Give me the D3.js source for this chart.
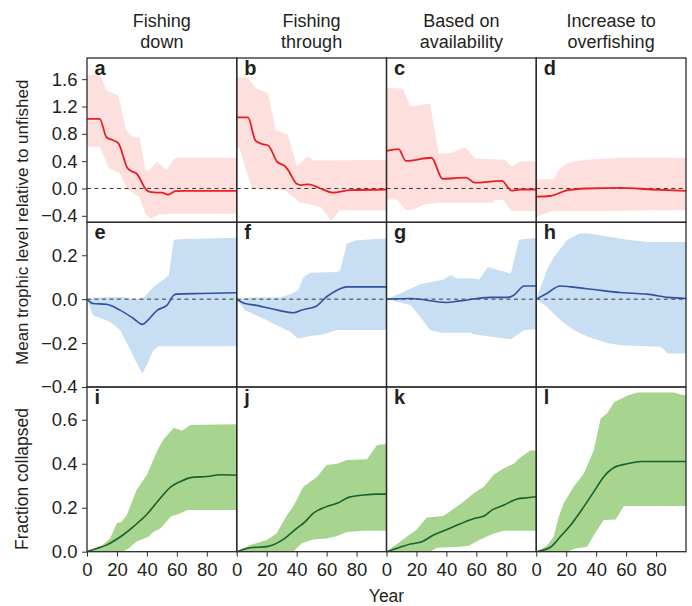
<!DOCTYPE html>
<html>
<head>
<meta charset="utf-8">
<script src="https://cdn.jsdelivr.net/npm/d3@7"></script>
<style>
  body { margin: 0; background: #fff; }
  svg text { font-family: "Liberation Sans", Arial, sans-serif; fill: #231f20; }
</style>
</head>
<body>
<div id="chart"></div>
<script>
// column headings and panel letters
const strategies = [["Fishing", "down"], ["Fishing", "through"], ["Based on", "availability"], ["Increase to", "overfishing"]];
const letters = ["a","b","c","d","e","f","g","h","i","j","k","l"];
const rowTicks = [[-0.4, 0, 0.4, 0.8, 1.2, 1.6], [-0.4, -0.2, 0, 0.2], [0, 0.2, 0.4, 0.6]];
const yearTicks = [0, 20, 40, 60, 80];

// row 1: trophic level, mean and spread  [year, value]
const meanA = [[0,1.02],[8.5,1.02],[13,0.75],[17,0.71],[21,0.66],[27,0.3],[30,0.25],[33,0.22],[40,-0.03],[42,-0.05],[47,-0.06],[50,-0.06],[54,-0.09],[59,-0.04],[65,-0.035],[100,-0.035]];
const hiA = [[0,1.66],[9,1.66],[13,1.43],[21,1.36],[26,0.86],[29,0.78],[33,0.75],[35,0.76],[39,0.27],[41,0.26],[47,0.39],[53,0.27],[58.5,0.44],[62,0.45],[100,0.45]];
const loA = [[0,0.61],[8.5,0.61],[14.5,0.3],[22,0.22],[27,-0.02],[35,-0.12],[39,-0.37],[42.5,-0.44],[48,-0.38],[58,-0.37],[100,-0.37]];

const meanB = [[0,1.04],[7.5,1.04],[12.5,0.7],[17,0.65],[21,0.63],[27,0.39],[32,0.33],[34,0.28],[40,0.07],[43,0.05],[48,0.06],[56,0.0],[64,-0.06],[76,-0.025],[100,-0.015]];
const hiB = [[0,1.63],[7,1.63],[13,1.46],[21,1.39],[26,0.86],[34,0.79],[35,0.72],[40,0.33],[44,0.4],[47,0.47],[52,0.41],[60,0.41],[100,0.42]];
const loB = [[0,0.6],[2,0.58],[10,0.0],[12,-0.01],[30,-0.02],[33,-0.04],[42,-0.2],[56,-0.27],[63,-0.47],[69,-0.32],[100,-0.32]];

const meanC = [[0,0.55],[8,0.575],[13,0.405],[30,0.45],[37.5,0.14],[45,0.15],[53,0.16],[59,0.085],[77,0.11],[83.5,-0.03],[89,-0.015],[100,-0.015]];
const hiC = [[0,1.48],[11,1.46],[16,1.2],[29,1.24],[35,0.51],[43,0.52],[50,0.58],[53,0.6],[59,0.44],[79,0.42],[83.5,0.32],[90,0.4],[100,0.4]];
const loC = [[0,-0.16],[7,-0.16],[13,-0.32],[17,-0.31],[26,-0.23],[35,-0.21],[71,-0.21],[72,-0.17],[78,-0.17],[83.5,-0.33],[100,-0.33]];

const meanD = [[0,-0.12],[9,-0.11],[21,-0.025],[33.5,0.0],[56,0.01],[78,-0.015],[100,-0.035]];
const hiD = [[0,0.13],[12,0.14],[15.6,0.29],[21,0.375],[33.5,0.42],[56,0.45],[100,0.45]];
const loD = [[0,-0.42],[4.5,-0.375],[11,-0.33],[56,-0.33],[78,-0.32],[100,-0.32]];

// row 2: trophic level, second measure
const meanE = [[0,0],[4,-0.02],[13,-0.023],[22,-0.05],[31,-0.088],[37,-0.115],[40,-0.1],[47,-0.05],[53.5,-0.027],[58,0.018],[60,0.023],[76,0.026],[100,0.029]];
const hiE = [[0,0],[6,0.008],[24,0.01],[31,0],[38,0.008],[44.5,0.056],[52,0.094],[54.6,0.11],[58,0.27],[62,0.273],[100,0.28]];
const loE = [[0,0],[4,-0.073],[15.4,-0.103],[22,-0.14],[29,-0.23],[33,-0.29],[37,-0.338],[40,-0.3],[44.5,-0.23],[48,-0.214],[100,-0.214]];

const meanF = [[0,0],[5.4,-0.02],[12,-0.027],[24,-0.045],[38,-0.062],[43,-0.05],[53,-0.032],[60,0.011],[67,0.041],[73.6,0.056],[100,0.056]];
const hiF = [[0,0],[9,0.008],[29,0.008],[37,0.026],[41,0.041],[44.5,0.1],[49,0.12],[67,0.124],[69,0.13],[73.6,0.253],[80,0.268],[100,0.276]];
const loF = [[0,0],[5.4,-0.05],[17.7,-0.088],[24,-0.11],[35.6,-0.148],[41,-0.18],[47,-0.17],[58,-0.16],[67,-0.14],[100,-0.14]];

const meanG = [[0,0],[16,0.003],[40,-0.015],[49,-0.008],[69.5,0.008],[81,0.008],[85,0.018],[92,0.06],[100,0.06]];
const hiG = [[0,0],[11,0.033],[22.5,0.068],[38,0.09],[43,0.11],[47,0.094],[56,0.095],[62,0.089],[67.6,0.147],[83,0.117],[88.5,0.27],[100,0.28]];
const loG = [[0,0],[16,-0.027],[22.5,-0.08],[29,-0.14],[36,-0.153],[56,-0.153],[58,-0.16],[83,-0.183],[92,-0.14],[100,-0.138]];

const meanH = [[0,0],[7,0.026],[16,0.06],[23,0.056],[38.5,0.044],[56,0.03],[74,0.023],[88,0.008],[100,0.003]];
const hiH = [[0,0],[7,0.13],[11.6,0.19],[20.6,0.27],[29.5,0.3],[34,0.3],[61,0.27],[74,0.26],[100,0.26]];
const loH = [[0,0],[7,-0.035],[16,-0.095],[25,-0.14],[34,-0.17],[47.4,-0.2],[56,-0.21],[83,-0.217],[88,-0.247],[100,-0.247]];

// row 3: fraction collapsed
const meanI = [[0,0],[6.5,0.015],[13,0.03],[19,0.053],[24,0.076],[31,0.114],[40,0.17],[47,0.227],[56,0.295],[62,0.318],[70,0.338],[80,0.342],[89,0.35],[100,0.348]];
const hiI = [[0,0],[9,0.023],[15.4,0.06],[20,0.13],[23,0.135],[26.6,0.167],[33,0.28],[40,0.35],[47,0.46],[51,0.51],[58,0.564],[63.5,0.55],[69,0.576],[100,0.58]];
const loI = [[0,0],[24,0],[27.7,0.015],[33,0.045],[41,0.068],[44.5,0.091],[49,0.106],[56,0.16],[62,0.174],[67,0.19],[100,0.19]];

const meanJ = [[0,0],[9,0.018],[20,0.023],[24,0.03],[31,0.056],[40,0.106],[45.6,0.136],[51,0.174],[60,0.205],[67,0.22],[74.7,0.247],[85,0.258],[93.7,0.262],[100,0.262]];
const hiJ = [[0,0],[9,0.03],[20,0.053],[26.6,0.083],[33,0.16],[38,0.21],[44.5,0.295],[53.5,0.34],[60,0.394],[67,0.4],[73.6,0.417],[87,0.42],[93.7,0.485],[100,0.49]];
const loJ = [[0,0],[37.8,0],[43.4,0.038],[51,0.056],[60,0.06],[67,0.071],[73.6,0.09],[85,0.095],[100,0.095]];

const meanK = [[0,0],[9,0.02],[16,0.035],[23.6,0.045],[31.4,0.076],[40,0.1],[49,0.126],[58,0.15],[65,0.162],[70.6,0.19],[78.4,0.212],[87.4,0.24],[94,0.245],[100,0.25]];
const hiK = [[0,0],[13.5,0.068],[20,0.1],[27,0.156],[38,0.162],[47,0.205],[51,0.225],[58,0.265],[65,0.295],[71.6,0.35],[78.4,0.38],[85,0.40],[88.5,0.424],[96,0.46],[100,0.46]];
const loK = [[0,0],[29,0],[33.7,0.018],[49.3,0.023],[55,0.027],[62.7,0.056],[71.6,0.083],[78.4,0.095],[100,0.095]];

const meanL = [[0,0],[9.4,0.02],[16,0.068],[23,0.121],[29.5,0.182],[38.5,0.273],[45,0.34],[52,0.383],[61,0.4],[70,0.41],[83,0.41],[100,0.41]];
const hiL = [[0,0],[7,0.027],[11.6,0.068],[15,0.159],[18.3,0.22],[25,0.295],[31.8,0.356],[38.5,0.462],[43,0.606],[47.4,0.63],[52,0.68],[61,0.71],[67.6,0.724],[92,0.724],[96.6,0.715],[100,0.71]];
const loL = [[0,0],[20.6,0],[26,0.015],[34,0.023],[38.5,0.076],[45,0.144],[53,0.147],[58.6,0.208],[100,0.208]];

const means = [meanA, meanB, meanC, meanD, meanE, meanF, meanG, meanH, meanI, meanJ, meanK, meanL];
const highs = [hiA, hiB, hiC, hiD, hiE, hiF, hiG, hiH, hiI, hiJ, hiK, hiL];
const lows  = [loA, loB, loC, loD, loE, loF, loG, loH, loI, loJ, loK, loL];

// layout
const width = 692, height = 606;
const left = 87, right = 686;
const rowEdges = [58, 222.3, 387, 551.7];
const rowDomains = [[-0.495, 1.91], [-0.4, 0.35], [0, 0.749]];
const rowColors = [
  {line: "#ec1c24", band: "#fde0dd"},
  {line: "#3150a0", band: "#c8def3"},
  {line: "#17602e", band: "#a7d48f"}
];
const pw = (right - left) / 4;
const tickFont = 18.5;

const svg = d3.select("#chart").append("svg")
  .attr("width", width)
  .attr("height", height);

const fmt = d3.format(".1f");
const line = d3.line().curve(d3.curveMonotoneX);

for (let r = 0; r < 3; r++){
  const y = d3.scaleLinear().domain(rowDomains[r]).range([rowEdges[r+1], rowEdges[r]]);
  for (let c = 0; c < 4; c++){
    const i = r * 4 + c;
    const x = d3.scaleLinear().domain([0, 100]).range([left + c * pw, left + (c + 1) * pw]);
    const clipId = "clip" + i;
    svg.append("clipPath").attr("id", clipId)
      .append("rect")
      .attr("x", x(0)).attr("y", rowEdges[r])
      .attr("width", pw).attr("height", rowEdges[r+1] - rowEdges[r]);
    const g = svg.append("g").attr("clip-path", `url(#${clipId})`);

    line.x(d => x(d[0])).y(d => y(d[1]));
    // band: upper edge forward, lower edge back
    const poly = highs[i].concat(lows[i].slice().reverse());
    g.append("path")
      .attr("d", d3.line().x(d => x(d[0])).y(d => y(d[1]))(poly) + "Z")
      .attr("fill", rowColors[r].band);

    if (r < 2){
      g.append("line")
        .attr("x1", x(0)).attr("x2", x(100))
        .attr("y1", y(0)).attr("y2", y(0))
        .attr("stroke", "#3a3a3a")
        .attr("stroke-width", 1)
        .attr("stroke-dasharray", "4,3.5");
    }

    g.append("path")
      .attr("d", line(means[i]))
      .attr("fill", "none")
      .attr("stroke", rowColors[r].line)
      .attr("stroke-width", r === 0 ? 1.8 : 1.6);

    // panel letter
    svg.append("text")
      .attr("x", x(0) + 7.5)
      .attr("y", rowEdges[r] + 17)
      .attr("font-size", 20)
      .attr("font-weight", "bold")
      .text(letters[i]);

    // x axis on bottom row
    if (r === 2){
      const ax = svg.append("g")
        .attr("transform", `translate(0,${rowEdges[3]})`)
        .call(d3.axisBottom(x).tickValues(yearTicks).tickSize(5).tickPadding(6));
      ax.select(".domain").remove();
      ax.selectAll(".tick line").attr("stroke", "#333");
      ax.selectAll("text").attr("font-size", tickFont).attr("fill", "#231f20")
        .style("font-family", '"Liberation Sans", Arial, sans-serif');
    }
  }
  // y axis on left column
  const ay = svg.append("g")
    .attr("transform", `translate(${left},0)`)
    .call(d3.axisLeft(y).tickValues(rowTicks[r]).tickSize(5).tickPadding(4.5).tickFormat(fmt));
  ay.select(".domain").remove();
  ay.selectAll(".tick line").attr("stroke", "#333");
  ay.selectAll("text").attr("font-size", tickFont).attr("fill", "#231f20")
    .style("font-family", '"Liberation Sans", Arial, sans-serif');
}

// panel frames
for (let r = 0; r < 3; r++){
  for (let c = 0; c < 4; c++){
    svg.append("rect")
      .attr("x", left + c * pw).attr("y", rowEdges[r])
      .attr("width", pw).attr("height", rowEdges[r+1] - rowEdges[r])
      .attr("fill", "none")
      .attr("stroke", "#2b2b2b")
      .attr("stroke-width", 1.3);
  }
}

// column headings
strategies.forEach((s, c) => {
  const t = svg.append("text")
    .attr("text-anchor", "middle")
    .attr("font-size", 18);
  s.forEach((w, k) => {
    t.append("tspan")
      .attr("x", left + (c + 0.5) * pw)
      .attr("y", 27.3 + k * 21)
      .text(w);
  });
});

// axis titles
svg.append("text")
  .attr("transform", `translate(27.5,${rowEdges[1]}) rotate(-90)`)
  .attr("text-anchor", "middle")
  .attr("font-size", 17)
  .text("Mean trophic level relative to unfished");

svg.append("text")
  .attr("transform", `translate(27.5,479) rotate(-90)`)
  .attr("text-anchor", "middle")
  .attr("font-size", 17.5)
  .text("Fraction collapsed");

svg.append("text")
  .attr("x", left + 2 * pw)
  .attr("y", 601.5)
  .attr("text-anchor", "middle")
  .attr("font-size", 17.5)
  .text("Year");
</script>
</body>
</html>
